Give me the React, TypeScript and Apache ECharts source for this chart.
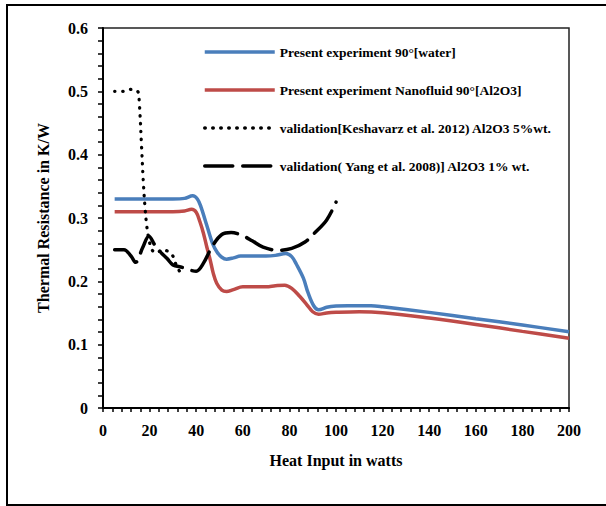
import React, { useEffect, useRef } from "react";
import * as echarts from "echarts";

const xTicks = [0, 20, 40, 60, 80, 100, 120, 140, 160, 180, 200];
const yTicks = [0, 0.1, 0.2, 0.3, 0.4, 0.5, 0.6];

const waterX = [5, 10, 20, 30, 35, 38.5, 40.5, 42, 44.5, 47, 49, 51, 53, 56, 59, 65, 70, 74, 78.5, 81, 83, 86, 88, 90.5, 92.5, 96, 100, 105, 115, 120, 140, 160, 180, 200];
const waterY = [0.33, 0.33, 0.33, 0.33, 0.331, 0.335, 0.33, 0.318, 0.289, 0.26, 0.246, 0.238, 0.235, 0.237, 0.24, 0.24, 0.24, 0.241, 0.244, 0.239, 0.227, 0.205, 0.182, 0.161, 0.155, 0.159, 0.161, 0.1616, 0.1616, 0.16, 0.151, 0.141, 0.131, 0.1205];

const nanoX = [5, 10, 20, 30, 35, 38, 40, 41.6, 43.1, 44.5, 46, 47.3, 48.8, 51, 53, 56, 60, 70, 74, 78, 81, 84.5, 87.5, 90, 92.5, 96, 100, 110, 120, 140, 160, 180, 200];
const nanoY = [0.31, 0.31, 0.31, 0.31, 0.311, 0.3137, 0.309, 0.294, 0.276, 0.255, 0.234, 0.213, 0.197, 0.186, 0.184, 0.187, 0.1915, 0.1915, 0.193, 0.194, 0.189, 0.176, 0.163, 0.152, 0.148, 0.15, 0.151, 0.152, 0.1505, 0.142, 0.132, 0.121, 0.11];

const keshX = [5, 8.5, 12, 14.9, 15.5, 16.6, 17.3, 18, 18.7, 19.5, 21, 23, 25.5, 28, 30, 31.5, 33, 34.5];
const keshY = [0.5, 0.5, 0.503, 0.5, 0.487, 0.409, 0.357, 0.318, 0.29, 0.27, 0.25, 0.245, 0.25, 0.247, 0.24, 0.225, 0.215, 0.207];

const yangX = [5, 9, 12, 14, 17, 19.7, 22.3, 25, 27.5, 30, 34, 37, 40, 43, 47, 51, 55, 60, 64, 68.7, 75, 81, 86.7, 91, 96, 100];
const yangY = [0.25, 0.25, 0.24, 0.23, 0.253, 0.271, 0.257, 0.245, 0.236, 0.226, 0.222, 0.218, 0.216, 0.228, 0.256, 0.274, 0.277, 0.272, 0.264, 0.254, 0.249, 0.252, 0.262, 0.277, 0.297, 0.325];

const names = [
  "Present experiment 90°[water]",
  "Present experiment Nanofluid 90°[Al2O3]",
  "validation[Keshavarz et al. 2012) Al2O3 5%wt.",
  "validation( Yang et al. 2008)] Al2O3 1% wt.",
];

const pairs = (xs: number[], ys: number[]) => xs.map((x, i) => [x, ys[i]]);

const FONT = "'Liberation Serif', 'Times New Roman', serif";

export default function App() {
  const ref = useRef<HTMLDivElement>(null);
  useEffect(() => {
    if (!ref.current) return;
    const chart = echarts.init(ref.current, null, { renderer: "svg" });
    const axisLabel = { fontFamily: FONT, fontWeight: "bold", fontSize: 16, color: "#000" };
    const lineBase = { type: "line", smooth: 0.35, showSymbol: false, symbol: "none" };
    chart.setOption({
      animation: false,
      backgroundColor: "#fff",
      graphic: [
        {
          type: "rect",
          shape: { x: 7, y: 5, width: 640, height: 500 },
          style: { fill: "none", stroke: "#000", lineWidth: 2 },
          silent: true,
          z: 100,
        },
      ],
      grid: {
        left: 103,
        right: 37,
        top: 28,
        bottom: 98,
        show: true,
        borderColor: "#222",
        borderWidth: 1.5,
      },
      legend: {
        orient: "vertical",
        left: 198,
        top: 40,
        itemWidth: 70,
        itemHeight: 14,
        itemGap: 24,
        data: names,
        textStyle: { fontFamily: FONT, fontWeight: "bold", fontSize: 13.5, color: "#000" },
        lineStyle: { width: 3.5 },
        itemStyle: { opacity: 0 },
      },
      xAxis: {
        type: "value",
        min: 0,
        max: 200,
        interval: 20,
        name: "Heat Input in watts",
        nameLocation: "middle",
        nameGap: 44,
        nameTextStyle: { fontFamily: FONT, fontWeight: "bold", fontSize: 16, color: "#000" },
        axisLine: { show: true, lineStyle: { color: "#000", width: 2 } },
        axisTick: { show: true, length: 4, lineStyle: { color: "#000", width: 1.5 } },
        minorTick: { show: true, splitNumber: 5, length: 4, lineStyle: { color: "#000", width: 1.5 } },
        splitLine: { show: false },
        axisLabel: {
          ...axisLabel,
          margin: 14,
          formatter: (v: number) => (xTicks.includes(v) ? String(v) : ""),
        },
      },
      yAxis: {
        type: "value",
        min: 0,
        max: 0.6,
        interval: 0.1,
        name: "Thermal Resistance in K/W",
        nameLocation: "middle",
        nameGap: 52,
        nameTextStyle: { fontFamily: FONT, fontWeight: "bold", fontSize: 16, color: "#000" },
        axisLine: { show: true, lineStyle: { color: "#000", width: 2 } },
        axisTick: { show: true, length: 5, lineStyle: { color: "#000", width: 1.5 } },
        minorTick: { show: true, splitNumber: 5, length: 5, lineStyle: { color: "#000", width: 1.5 } },
        splitLine: { show: false },
        axisLabel: {
          ...axisLabel,
          margin: 15,
          formatter: (v: number) => {
            const t = yTicks.find((y) => Math.abs(y - v) < 1e-9);
            return t === undefined ? "" : t === 0 ? "0" : t.toFixed(1);
          },
        },
      },
      series: [
        {
          ...lineBase,
          name: names[0],
          data: pairs(waterX, waterY),
          lineStyle: { color: "#4A7EBB", width: 3.5 },
          itemStyle: { color: "#4A7EBB" },
          z: 3,
        },
        {
          ...lineBase,
          name: names[1],
          data: pairs(nanoX, nanoY),
          lineStyle: { color: "#BE4B48", width: 3.5 },
          itemStyle: { color: "#BE4B48" },
          z: 2,
        },
        {
          ...lineBase,
          name: names[2],
          data: pairs(keshX, keshY),
          lineStyle: { color: "#000", width: 3.2, type: [0.5, 7.5], cap: "round" },
          itemStyle: { color: "#000" },
          z: 4,
        },
        {
          ...lineBase,
          name: names[3],
          data: pairs(yangX, yangY),
          lineStyle: { color: "#000", width: 3.5, type: [28, 10], cap: "round" },
          itemStyle: { color: "#000" },
          z: 4,
        },
      ],
    });
    return () => chart.dispose();
  }, []);
  return (
    <div
      ref={ref}
      style={{ position: "absolute", left: 0, top: 0, width: 606, height: 506 }}
    />
  );
}
